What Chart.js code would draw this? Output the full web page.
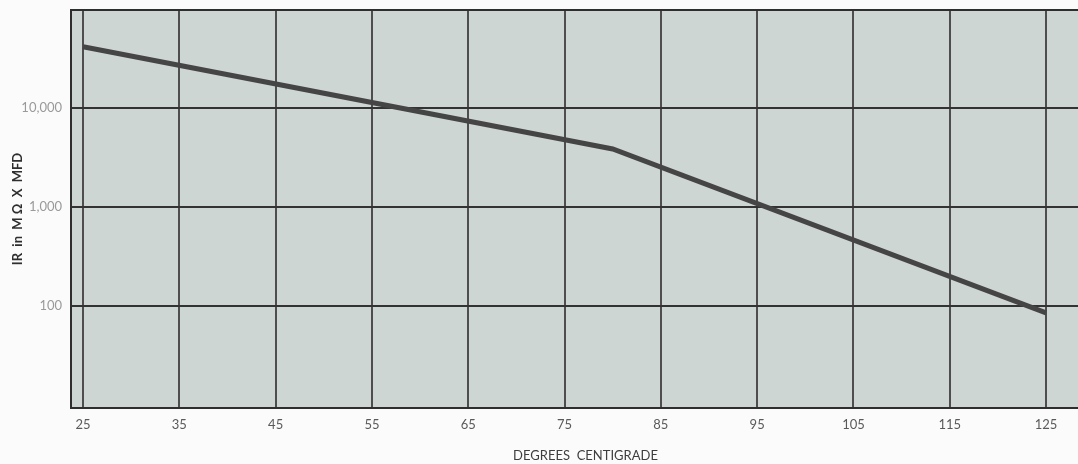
<!DOCTYPE html>
<html>
<head>
<meta charset="utf-8">
<script src="https://cdn.jsdelivr.net/npm/chart.js@4"></script>
<style>
  html, body { margin: 0; padding: 0; background: #fbfbfb; overflow: hidden; }
  #chart { display: block; }
</style>
</head>
<body>
<canvas id="chart" width="1100" height="464"></canvas>
<script>
// readings (deg C vs IR in megohm x microfarad)
const temps = [25, 80, 125];
const irValues = [41600, 3850, 85];

const xTicks = [25, 35, 45, 55, 65, 75, 85, 95, 105, 115, 125];
const yTicks = [100, 1000, 10000];
const yLabels = ["100", "1,000", "10,000"];

const xMin = 23.75;
const xMax = 130.6;
const yMin = 9.3;
const yMax = 97700;

// paper colour behind the grid, plus the top edge of the frame
const plotBackground = {
  id: "plotBackground",
  beforeDraw(chart) {
    const { ctx, chartArea } = chart;
    ctx.save();
    ctx.fillStyle = "#cdd6d2";
    ctx.fillRect(chartArea.left, chartArea.top, chartArea.right - chartArea.left, chartArea.bottom - chartArea.top);
    ctx.restore();
  },
  afterDraw(chart) {
    const { ctx, chartArea } = chart;
    ctx.save();
    ctx.strokeStyle = "#2e2e2e";
    ctx.lineWidth = 2;
    ctx.beginPath();
    ctx.moveTo(chartArea.left - 1, chartArea.top);
    ctx.lineTo(chartArea.right, chartArea.top);
    ctx.stroke();
    ctx.restore();
  },
};

new Chart(document.getElementById("chart").getContext("2d"), {
  type: "line",
  data: {
    datasets: [
      {
        data: temps.map((t, i) => ({ x: t, y: irValues[i] })),
        borderColor: "#454545",
        borderWidth: 5,
        pointRadius: 0,
        tension: 0,
      },
    ],
  },
  options: {
    animation: false,
    responsive: false,
    layout: { padding: { top: 10, right: 0, left: 0, bottom: 0 } },
    plugins: { legend: { display: false }, tooltip: { enabled: false } },
    scales: {
      x: {
        type: "linear",
        min: xMin,
        max: xMax,
        afterBuildTicks: (scale) => {
          scale.ticks = xTicks.map((v) => ({ value: v }));
        },
        afterFit: (scale) => {
          scale.height = 56;
          scale.paddingLeft = 0;
          scale.paddingRight = 0;
        },
        grid: { color: "#4e4e4e", lineWidth: 2, drawTicks: false },
        border: { color: "#2e2e2e", width: 2 },
        ticks: {
          padding: 9,
          autoSkip: false,
          maxRotation: 0,
          color: "#5a5a5a",
          font: { family: "Lato", size: 13 },
        },
        title: {
          display: true,
          text: "DEGREES  CENTIGRADE",
          color: "#3e3e3e",
          font: { family: "Lato", size: 13 },
          padding: { top: 0, bottom: 0 },
        },
      },
      y: {
        type: "logarithmic",
        min: yMin,
        max: yMax,
        afterBuildTicks: (scale) => {
          scale.ticks = yTicks.map((v) => ({ value: v }));
        },
        afterFit: (scale) => {
          scale.width = 71;
          scale.paddingTop = 0;
          scale.paddingBottom = 0;
        },
        grid: { color: "#333333", lineWidth: 2, drawTicks: false },
        border: { color: "#2e2e2e", width: 2 },
        ticks: {
          padding: 9,
          color: "#9a9a9a",
          font: { family: "Lato", size: 13 },
          callback: (v) => yLabels[yTicks.indexOf(v)],
        },
        title: {
          display: true,
          text: "IR  in  M Ω  X  MFD",
          color: "#2e2e2e",
          font: { family: "Lato", size: 13, weight: "bold" },
          padding: { top: 10, bottom: 0 },
        },
      },
    },
  },
  plugins: [plotBackground],
});
</script>
</body>
</html>
